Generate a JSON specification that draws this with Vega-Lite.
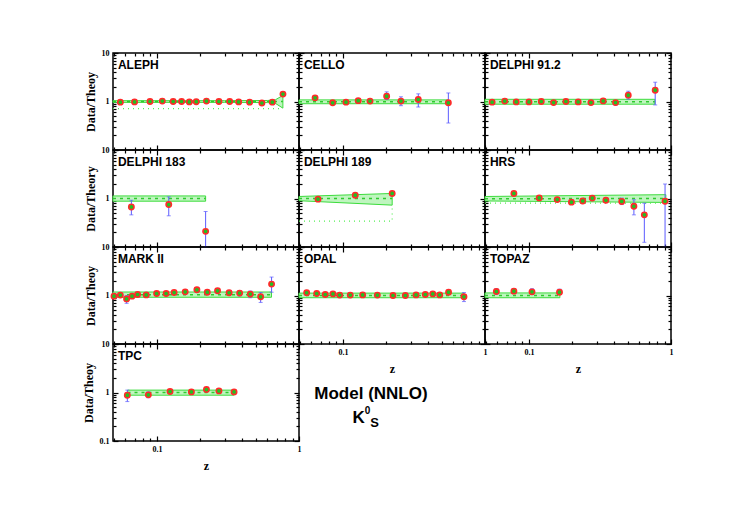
{
"$schema": "https://vega.github.io/schema/vega-lite/v6.json",
"background": "white",
"padding": {"left": 81, "top": 48, "right": 0, "bottom": 0},
"columns": 3,
"spacing": 0,
"bounds": "flush",
"config": {
 "view": {"stroke": "black", "strokeWidth": 1.5},
 "axis": {"grid": false, "labelFont": "Liberation Serif", "labelFontWeight": "bold", "labelFontSize": 8, "labelColor": "black", "titleFont": "Liberation Serif", "titleFontWeight": "bold", "titleFontSize": 12, "titleColor": "black", "tickColor": "black", "tickWidth": 1.2}
},
"datasets": {
 "pts": [
  {"e":"ALEPH","z":0.0552,"v":0.97,"lo":0.93,"hi":1.01},
  {"e":"ALEPH","z":0.0695,"v":0.98,"lo":0.95,"hi":1.01},
  {"e":"ALEPH","z":0.0893,"v":1.0,"lo":0.97,"hi":1.03},
  {"e":"ALEPH","z":0.109,"v":1.02,"lo":0.99,"hi":1.05},
  {"e":"ALEPH","z":0.130,"v":1.0,"lo":0.97,"hi":1.03},
  {"e":"ALEPH","z":0.149,"v":1.0,"lo":0.97,"hi":1.03},
  {"e":"ALEPH","z":0.169,"v":0.98,"lo":0.95,"hi":1.01},
  {"e":"ALEPH","z":0.189,"v":0.99,"lo":0.96,"hi":1.02},
  {"e":"ALEPH","z":0.223,"v":1.02,"lo":0.99,"hi":1.05},
  {"e":"ALEPH","z":0.273,"v":1.0,"lo":0.97,"hi":1.03},
  {"e":"ALEPH","z":0.325,"v":1.0,"lo":0.97,"hi":1.03},
  {"e":"ALEPH","z":0.376,"v":0.98,"lo":0.95,"hi":1.01},
  {"e":"ALEPH","z":0.449,"v":0.97,"lo":0.93,"hi":1.01},
  {"e":"ALEPH","z":0.548,"v":0.93,"lo":0.86,"hi":1.0},
  {"e":"ALEPH","z":0.649,"v":0.97,"lo":0.92,"hi":1.02},
  {"e":"ALEPH","z":0.771,"v":1.42,"lo":1.34,"hi":1.5},
  {"e":"CELLO","z":0.0636,"v":1.19,"lo":1.14,"hi":1.24},
  {"e":"CELLO","z":0.0846,"v":0.94,"lo":0.9,"hi":0.98},
  {"e":"CELLO","z":0.105,"v":0.97,"lo":0.93,"hi":1.01},
  {"e":"CELLO","z":0.128,"v":1.04,"lo":0.96,"hi":1.12},
  {"e":"CELLO","z":0.155,"v":1.02,"lo":0.97,"hi":1.07},
  {"e":"CELLO","z":0.203,"v":1.29,"lo":1.1,"hi":1.58},
  {"e":"CELLO","z":0.256,"v":1.02,"lo":0.82,"hi":1.25},
  {"e":"CELLO","z":0.339,"v":1.1,"lo":0.77,"hi":1.44},
  {"e":"CELLO","z":0.552,"v":0.94,"lo":0.36,"hi":1.5},
  {"e":"DELPHI 91.2","z":0.055,"v":0.97,"lo":0.94,"hi":1.0},
  {"e":"DELPHI 91.2","z":0.0675,"v":1.02,"lo":0.99,"hi":1.05},
  {"e":"DELPHI 91.2","z":0.0813,"v":0.98,"lo":0.95,"hi":1.01},
  {"e":"DELPHI 91.2","z":0.1,"v":0.98,"lo":0.95,"hi":1.01},
  {"e":"DELPHI 91.2","z":0.122,"v":1.0,"lo":0.97,"hi":1.03},
  {"e":"DELPHI 91.2","z":0.149,"v":0.95,"lo":0.92,"hi":0.98},
  {"e":"DELPHI 91.2","z":0.182,"v":1.0,"lo":0.97,"hi":1.03},
  {"e":"DELPHI 91.2","z":0.222,"v":0.98,"lo":0.95,"hi":1.01},
  {"e":"DELPHI 91.2","z":0.273,"v":0.95,"lo":0.92,"hi":0.98},
  {"e":"DELPHI 91.2","z":0.333,"v":1.03,"lo":0.99,"hi":1.07},
  {"e":"DELPHI 91.2","z":0.407,"v":0.95,"lo":0.84,"hi":1.03},
  {"e":"DELPHI 91.2","z":0.5,"v":1.35,"lo":1.12,"hi":1.63},
  {"e":"DELPHI 91.2","z":0.774,"v":1.71,"lo":0.85,"hi":2.5},
  {"e":"DELPHI 183","z":0.066,"v":0.67,"lo":0.46,"hi":0.92},
  {"e":"DELPHI 183","z":0.121,"v":0.75,"lo":0.44,"hi":1.08},
  {"e":"DELPHI 183","z":0.22,"v":0.21,"lo":0.1,"hi":0.54},
  {"e":"DELPHI 189","z":0.0667,"v":0.97,"lo":0.94,"hi":1.0},
  {"e":"DELPHI 189","z":0.122,"v":1.17,"lo":1.14,"hi":1.2},
  {"e":"DELPHI 189","z":0.222,"v":1.27,"lo":1.24,"hi":1.3},
  {"e":"HRS","z":0.0783,"v":1.27,"lo":1.23,"hi":1.31},
  {"e":"HRS","z":0.118,"v":1.03,"lo":1.0,"hi":1.06},
  {"e":"HRS","z":0.158,"v":0.95,"lo":0.92,"hi":0.98},
  {"e":"HRS","z":0.199,"v":0.84,"lo":0.8,"hi":0.88},
  {"e":"HRS","z":0.239,"v":0.89,"lo":0.85,"hi":0.93},
  {"e":"HRS","z":0.279,"v":1.02,"lo":0.97,"hi":1.07},
  {"e":"HRS","z":0.348,"v":0.92,"lo":0.88,"hi":0.96},
  {"e":"HRS","z":0.45,"v":0.87,"lo":0.75,"hi":1.02},
  {"e":"HRS","z":0.548,"v":0.69,"lo":0.46,"hi":0.94},
  {"e":"HRS","z":0.649,"v":0.46,"lo":0.125,"hi":0.8},
  {"e":"HRS","z":0.908,"v":0.88,"lo":0.1,"hi":1.99},
  {"e":"MARK II","z":0.0498,"v":0.97,"lo":0.88,"hi":1.07},
  {"e":"MARK II","z":0.0552,"v":1.02,"lo":0.94,"hi":1.1},
  {"e":"MARK II","z":0.0611,"v":0.85,"lo":0.69,"hi":1.0},
  {"e":"MARK II","z":0.0667,"v":0.97,"lo":0.89,"hi":1.05},
  {"e":"MARK II","z":0.073,"v":1.05,"lo":0.96,"hi":1.14},
  {"e":"MARK II","z":0.084,"v":1.03,"lo":0.95,"hi":1.12},
  {"e":"MARK II","z":0.0994,"v":1.1,"lo":1.0,"hi":1.2},
  {"e":"MARK II","z":0.116,"v":1.1,"lo":1.0,"hi":1.2},
  {"e":"MARK II","z":0.132,"v":1.15,"lo":1.06,"hi":1.24},
  {"e":"MARK II","z":0.158,"v":1.19,"lo":1.1,"hi":1.28},
  {"e":"MARK II","z":0.191,"v":1.31,"lo":1.2,"hi":1.42},
  {"e":"MARK II","z":0.226,"v":1.17,"lo":1.08,"hi":1.26},
  {"e":"MARK II","z":0.267,"v":1.25,"lo":1.15,"hi":1.35},
  {"e":"MARK II","z":0.322,"v":1.14,"lo":1.04,"hi":1.24},
  {"e":"MARK II","z":0.382,"v":1.12,"lo":0.98,"hi":1.26},
  {"e":"MARK II","z":0.454,"v":1.07,"lo":0.9,"hi":1.24},
  {"e":"MARK II","z":0.537,"v":0.94,"lo":0.72,"hi":1.15},
  {"e":"MARK II","z":0.641,"v":1.72,"lo":1.17,"hi":2.4},
  {"e":"OPAL","z":0.0555,"v":1.14,"lo":1.11,"hi":1.17},
  {"e":"OPAL","z":0.0653,"v":1.1,"lo":1.07,"hi":1.13},
  {"e":"OPAL","z":0.075,"v":1.05,"lo":1.02,"hi":1.08},
  {"e":"OPAL","z":0.085,"v":1.08,"lo":1.05,"hi":1.11},
  {"e":"OPAL","z":0.0948,"v":1.02,"lo":0.99,"hi":1.05},
  {"e":"OPAL","z":0.1125,"v":1.02,"lo":0.99,"hi":1.05},
  {"e":"OPAL","z":0.1376,"v":1.03,"lo":1.0,"hi":1.06},
  {"e":"OPAL","z":0.1745,"v":1.02,"lo":0.99,"hi":1.05},
  {"e":"OPAL","z":0.225,"v":1.0,"lo":0.97,"hi":1.03},
  {"e":"OPAL","z":0.275,"v":1.0,"lo":0.97,"hi":1.03},
  {"e":"OPAL","z":0.327,"v":1.03,"lo":1.0,"hi":1.06},
  {"e":"OPAL","z":0.38,"v":1.05,"lo":1.02,"hi":1.08},
  {"e":"OPAL","z":0.429,"v":1.08,"lo":1.04,"hi":1.12},
  {"e":"OPAL","z":0.48,"v":1.03,"lo":0.99,"hi":1.07},
  {"e":"OPAL","z":0.554,"v":1.17,"lo":1.12,"hi":1.22},
  {"e":"OPAL","z":0.711,"v":0.94,"lo":0.75,"hi":1.15},
  {"e":"TOPAZ","z":0.0589,"v":1.21,"lo":1.07,"hi":1.38},
  {"e":"TOPAZ","z":0.0783,"v":1.23,"lo":1.1,"hi":1.38},
  {"e":"TOPAZ","z":0.105,"v":1.19,"lo":1.05,"hi":1.38},
  {"e":"TOPAZ","z":0.164,"v":1.17,"lo":1.05,"hi":1.35},
  {"e":"TPC","z":0.0618,"v":0.88,"lo":0.65,"hi":1.12},
  {"e":"TPC","z":0.0869,"v":0.895,"lo":0.78,"hi":1.03},
  {"e":"TPC","z":0.1236,"v":1.05,"lo":0.97,"hi":1.13},
  {"e":"TPC","z":0.1747,"v":1.03,"lo":0.97,"hi":1.09},
  {"e":"TPC","z":0.223,"v":1.15,"lo":1.05,"hi":1.25},
  {"e":"TPC","z":0.273,"v":1.08,"lo":0.98,"hi":1.18},
  {"e":"TPC","z":0.349,"v":1.03,"lo":0.92,"hi":1.15}
 ],
 "band": [
  {"e":"ALEPH","z":0.049,"lo":0.96,"hi":1.04,"mid":1.0},
  {"e":"ALEPH","z":0.3,"lo":0.96,"hi":1.04,"mid":1.0},
  {"e":"ALEPH","z":0.6,"lo":0.95,"hi":1.05,"mid":1.0},
  {"e":"ALEPH","z":0.68,"lo":0.92,"hi":1.08,"mid":1.0},
  {"e":"ALEPH","z":0.77,"lo":0.73,"hi":1.33,"mid":1.0},
  {"e":"CELLO","z":0.049,"lo":0.9,"hi":1.08,"mid":0.99},
  {"e":"CELLO","z":0.55,"lo":0.9,"hi":1.08,"mid":0.99},
  {"e":"DELPHI 91.2","z":0.049,"lo":0.88,"hi":1.11,"mid":0.99},
  {"e":"DELPHI 91.2","z":0.77,"lo":0.88,"hi":1.11,"mid":0.99},
  {"e":"DELPHI 183","z":0.049,"lo":0.88,"hi":1.13,"mid":1.0},
  {"e":"DELPHI 183","z":0.22,"lo":0.88,"hi":1.13,"mid":1.0},
  {"e":"DELPHI 189","z":0.049,"lo":0.9,"hi":1.1,"mid":1.0},
  {"e":"DELPHI 189","z":0.222,"lo":0.73,"hi":1.27,"mid":1.0},
  {"e":"HRS","z":0.049,"lo":0.89,"hi":1.1,"mid":0.99},
  {"e":"HRS","z":0.92,"lo":0.83,"hi":1.2,"mid":1.0},
  {"e":"MARK II","z":0.049,"lo":0.92,"hi":1.18,"mid":1.04},
  {"e":"MARK II","z":0.64,"lo":0.92,"hi":1.18,"mid":1.04},
  {"e":"OPAL","z":0.049,"lo":0.9,"hi":1.12,"mid":1.0},
  {"e":"OPAL","z":0.71,"lo":0.9,"hi":1.12,"mid":1.0},
  {"e":"TOPAZ","z":0.049,"lo":0.9,"hi":1.13,"mid":1.0},
  {"e":"TOPAZ","z":0.165,"lo":0.9,"hi":1.13,"mid":1.0},
  {"e":"TPC","z":0.062,"lo":0.88,"hi":1.12,"mid":1.0},
  {"e":"TPC","z":0.35,"lo":0.88,"hi":1.12,"mid":1.0}
 ],
 "dot": [
  {"e":"ALEPH","i":0,"z":0.049,"y":0.71},
  {"e":"ALEPH","i":1,"z":0.77,"y":0.71},
  {"e":"DELPHI 189","i":0,"z":0.049,"y":0.34},
  {"e":"DELPHI 189","i":1,"z":0.222,"y":0.34},
  {"e":"DELPHI 189","i":2,"z":0.222,"y":0.73},
  {"e":"HRS","i":0,"z":0.049,"y":0.8},
  {"e":"HRS","i":1,"z":0.92,"y":0.8}
 ]
},
"concat": [
 {"width":186,"height":97,"resolve":{"axis":{"x":"independent","y":"independent"}},"layer":[
  {"data":{"name":"band"},"transform":[{"filter":"datum.e=='ALEPH'"}],"mark":{"type":"area","fill":"#bff5bf","stroke":"#3ddc3d","strokeWidth":1},"encoding":{"x":{"field":"z","type":"quantitative","scale":{"type":"log","domain":[0.049,1]},"axis":{"orient":"bottom","values":[0.1,1],"tickSize":5,"offset":-5,"labels":false,"domain":false,"title":null}},"y":{"field":"lo","type":"quantitative","scale":{"type":"log","domain":[0.1,10]},"axis":{"orient":"left","values":[0.1,1,10],"tickSize":5,"offset":-5,"labels":true,"format":"~g","labelFlush":false,"labelPadding":4,"labelExpr":"datum.value < 0.5 ? '' : datum.label","domain":false,"title":"Data/Theoy","titlePadding":4}},"y2":{"field":"hi"}}},
  {"data":{"name":"band"},"transform":[{"filter":"datum.e=='ALEPH'"}],"mark":{"type":"line","stroke":"#2ecc2e","strokeWidth":1.5,"strokeDash":[3,4]},"encoding":{"x":{"field":"z","type":"quantitative","scale":{"type":"log","domain":[0.049,1]},"axis":{"orient":"top","values":[0.1,1],"tickSize":5,"offset":-5,"labels":false,"domain":false,"title":null}},"y":{"field":"mid","type":"quantitative","scale":{"type":"log","domain":[0.1,10]},"axis":{"orient":"right","values":[0.1,1,10],"tickSize":5,"offset":-5,"labels":false,"domain":false,"title":null}}}},
  {"data":{"name":"dot"},"transform":[{"filter":"datum.e=='ALEPH'"}],"mark":{"type":"line","stroke":"#55ee55","strokeWidth":1.2,"strokeDash":[1,4]},"encoding":{"x":{"field":"z","type":"quantitative","scale":{"type":"log","domain":[0.049,1]},"axis":null},"y":{"field":"y","type":"quantitative","scale":{"type":"log","domain":[0.1,10]},"axis":null},"order":{"field":"i"}}},
  {"data":{"name":"pts"},"transform":[{"filter":"datum.e=='ALEPH'"}],"mark":{"type":"rule","stroke":"#5b5bff","strokeWidth":1},"encoding":{"x":{"field":"z","type":"quantitative","scale":{"type":"log","domain":[0.049,1]},"axis":{"orient":"bottom","values":[0.05,0.06,0.07,0.08,0.09,0.2,0.3,0.4,0.5,0.6,0.7,0.8,0.9],"tickSize":3,"offset":-3,"labels":false,"domain":false,"title":null}},"y":{"field":"lo","type":"quantitative","scale":{"type":"log","domain":[0.1,10]},"axis":{"orient":"left","values":[0.2,0.3,0.4,0.5,0.6,0.7,0.8,0.9,2,3,4,5,6,7,8,9],"tickSize":3,"offset":-3,"labels":false,"domain":false,"title":null}},"y2":{"field":"hi"}}},
  {"data":{"name":"pts"},"transform":[{"filter":"datum.e=='ALEPH'"}],"mark":{"type":"tick","orient":"horizontal","color":"#5b5bff","size":4,"thickness":1},"encoding":{"x":{"field":"z","type":"quantitative","scale":{"type":"log","domain":[0.049,1]},"axis":{"orient":"top","values":[0.05,0.06,0.07,0.08,0.09,0.2,0.3,0.4,0.5,0.6,0.7,0.8,0.9],"tickSize":3,"offset":-3,"labels":false,"domain":false,"title":null}},"y":{"field":"lo","type":"quantitative","scale":{"type":"log","domain":[0.1,10]},"axis":{"orient":"right","values":[0.2,0.3,0.4,0.5,0.6,0.7,0.8,0.9,2,3,4,5,6,7,8,9],"tickSize":3,"offset":-3,"labels":false,"domain":false,"title":null}}}},
  {"data":{"name":"pts"},"transform":[{"filter":"datum.e=='ALEPH'"}],"mark":{"type":"tick","orient":"horizontal","color":"#5b5bff","size":4,"thickness":1},"encoding":{"x":{"field":"z","type":"quantitative","scale":{"type":"log","domain":[0.049,1]},"axis":null},"y":{"field":"hi","type":"quantitative","scale":{"type":"log","domain":[0.1,10]},"axis":null}}},
  {"data":{"name":"pts"},"transform":[{"filter":"datum.e=='ALEPH'"}],"mark":{"type":"circle","fill":"#22c022","stroke":"#ff2a2a","strokeWidth":1.6,"size":28,"opacity":1},"encoding":{"x":{"field":"z","type":"quantitative","scale":{"type":"log","domain":[0.049,1]},"axis":null},"y":{"field":"v","type":"quantitative","scale":{"type":"log","domain":[0.1,10]},"axis":null}}},
  {"data":{"values":[{}]},"mark":{"type":"text","align":"left","baseline":"alphabetic","font":"Liberation Sans","fontWeight":"bold","fontSize":12,"color":"black"},"encoding":{"x":{"datum":0.0531,"type":"quantitative","scale":{"type":"log","domain":[0.049,1]},"axis":null},"y":{"datum":4.6,"type":"quantitative","scale":{"type":"log","domain":[0.1,10]},"axis":null},"text":{"value":"ALEPH"}}}
 ]},
 {"width":186,"height":97,"resolve":{"axis":{"x":"independent","y":"independent"}},"layer":[
  {"data":{"name":"band"},"transform":[{"filter":"datum.e=='CELLO'"}],"mark":{"type":"area","fill":"#bff5bf","stroke":"#3ddc3d","strokeWidth":1},"encoding":{"x":{"field":"z","type":"quantitative","scale":{"type":"log","domain":[0.049,1]},"axis":{"orient":"bottom","values":[0.1,1],"tickSize":5,"offset":-5,"labels":false,"domain":false,"title":null}},"y":{"field":"lo","type":"quantitative","scale":{"type":"log","domain":[0.1,10]},"axis":{"orient":"left","values":[0.1,1,10],"tickSize":5,"offset":-5,"labels":false,"domain":false,"title":null}},"y2":{"field":"hi"}}},
  {"data":{"name":"band"},"transform":[{"filter":"datum.e=='CELLO'"}],"mark":{"type":"line","stroke":"#2ecc2e","strokeWidth":1.5,"strokeDash":[3,4]},"encoding":{"x":{"field":"z","type":"quantitative","scale":{"type":"log","domain":[0.049,1]},"axis":{"orient":"top","values":[0.1,1],"tickSize":5,"offset":-5,"labels":false,"domain":false,"title":null}},"y":{"field":"mid","type":"quantitative","scale":{"type":"log","domain":[0.1,10]},"axis":{"orient":"right","values":[0.1,1,10],"tickSize":5,"offset":-5,"labels":false,"domain":false,"title":null}}}},
  {"data":{"name":"pts"},"transform":[{"filter":"datum.e=='CELLO'"}],"mark":{"type":"rule","stroke":"#5b5bff","strokeWidth":1},"encoding":{"x":{"field":"z","type":"quantitative","scale":{"type":"log","domain":[0.049,1]},"axis":{"orient":"bottom","values":[0.05,0.06,0.07,0.08,0.09,0.2,0.3,0.4,0.5,0.6,0.7,0.8,0.9],"tickSize":3,"offset":-3,"labels":false,"domain":false,"title":null}},"y":{"field":"lo","type":"quantitative","scale":{"type":"log","domain":[0.1,10]},"axis":{"orient":"left","values":[0.2,0.3,0.4,0.5,0.6,0.7,0.8,0.9,2,3,4,5,6,7,8,9],"tickSize":3,"offset":-3,"labels":false,"domain":false,"title":null}},"y2":{"field":"hi"}}},
  {"data":{"name":"pts"},"transform":[{"filter":"datum.e=='CELLO'"}],"mark":{"type":"tick","orient":"horizontal","color":"#5b5bff","size":4,"thickness":1},"encoding":{"x":{"field":"z","type":"quantitative","scale":{"type":"log","domain":[0.049,1]},"axis":{"orient":"top","values":[0.05,0.06,0.07,0.08,0.09,0.2,0.3,0.4,0.5,0.6,0.7,0.8,0.9],"tickSize":3,"offset":-3,"labels":false,"domain":false,"title":null}},"y":{"field":"lo","type":"quantitative","scale":{"type":"log","domain":[0.1,10]},"axis":{"orient":"right","values":[0.2,0.3,0.4,0.5,0.6,0.7,0.8,0.9,2,3,4,5,6,7,8,9],"tickSize":3,"offset":-3,"labels":false,"domain":false,"title":null}}}},
  {"data":{"name":"pts"},"transform":[{"filter":"datum.e=='CELLO'"}],"mark":{"type":"tick","orient":"horizontal","color":"#5b5bff","size":4,"thickness":1},"encoding":{"x":{"field":"z","type":"quantitative","scale":{"type":"log","domain":[0.049,1]},"axis":null},"y":{"field":"hi","type":"quantitative","scale":{"type":"log","domain":[0.1,10]},"axis":null}}},
  {"data":{"name":"pts"},"transform":[{"filter":"datum.e=='CELLO'"}],"mark":{"type":"circle","fill":"#22c022","stroke":"#ff2a2a","strokeWidth":1.6,"size":28,"opacity":1},"encoding":{"x":{"field":"z","type":"quantitative","scale":{"type":"log","domain":[0.049,1]},"axis":null},"y":{"field":"v","type":"quantitative","scale":{"type":"log","domain":[0.1,10]},"axis":null}}},
  {"data":{"values":[{}]},"mark":{"type":"text","align":"left","baseline":"alphabetic","font":"Liberation Sans","fontWeight":"bold","fontSize":12,"color":"black"},"encoding":{"x":{"datum":0.0531,"type":"quantitative","scale":{"type":"log","domain":[0.049,1]},"axis":null},"y":{"datum":4.6,"type":"quantitative","scale":{"type":"log","domain":[0.1,10]},"axis":null},"text":{"value":"CELLO"}}}
 ]},
 {"width":186,"height":97,"resolve":{"axis":{"x":"independent","y":"independent"}},"layer":[
  {"data":{"name":"band"},"transform":[{"filter":"datum.e=='DELPHI 91.2'"}],"mark":{"type":"area","fill":"#bff5bf","stroke":"#3ddc3d","strokeWidth":1},"encoding":{"x":{"field":"z","type":"quantitative","scale":{"type":"log","domain":[0.049,1]},"axis":{"orient":"bottom","values":[0.1,1],"tickSize":5,"offset":-5,"labels":false,"domain":false,"title":null}},"y":{"field":"lo","type":"quantitative","scale":{"type":"log","domain":[0.1,10]},"axis":{"orient":"left","values":[0.1,1,10],"tickSize":5,"offset":-5,"labels":false,"domain":false,"title":null}},"y2":{"field":"hi"}}},
  {"data":{"name":"band"},"transform":[{"filter":"datum.e=='DELPHI 91.2'"}],"mark":{"type":"line","stroke":"#2ecc2e","strokeWidth":1.5,"strokeDash":[3,4]},"encoding":{"x":{"field":"z","type":"quantitative","scale":{"type":"log","domain":[0.049,1]},"axis":{"orient":"top","values":[0.1,1],"tickSize":5,"offset":-5,"labels":false,"domain":false,"title":null}},"y":{"field":"mid","type":"quantitative","scale":{"type":"log","domain":[0.1,10]},"axis":{"orient":"right","values":[0.1,1,10],"tickSize":5,"offset":-5,"labels":false,"domain":false,"title":null}}}},
  {"data":{"name":"pts"},"transform":[{"filter":"datum.e=='DELPHI 91.2'"}],"mark":{"type":"rule","stroke":"#5b5bff","strokeWidth":1},"encoding":{"x":{"field":"z","type":"quantitative","scale":{"type":"log","domain":[0.049,1]},"axis":{"orient":"bottom","values":[0.05,0.06,0.07,0.08,0.09,0.2,0.3,0.4,0.5,0.6,0.7,0.8,0.9],"tickSize":3,"offset":-3,"labels":false,"domain":false,"title":null}},"y":{"field":"lo","type":"quantitative","scale":{"type":"log","domain":[0.1,10]},"axis":{"orient":"left","values":[0.2,0.3,0.4,0.5,0.6,0.7,0.8,0.9,2,3,4,5,6,7,8,9],"tickSize":3,"offset":-3,"labels":false,"domain":false,"title":null}},"y2":{"field":"hi"}}},
  {"data":{"name":"pts"},"transform":[{"filter":"datum.e=='DELPHI 91.2'"}],"mark":{"type":"tick","orient":"horizontal","color":"#5b5bff","size":4,"thickness":1},"encoding":{"x":{"field":"z","type":"quantitative","scale":{"type":"log","domain":[0.049,1]},"axis":{"orient":"top","values":[0.05,0.06,0.07,0.08,0.09,0.2,0.3,0.4,0.5,0.6,0.7,0.8,0.9],"tickSize":3,"offset":-3,"labels":false,"domain":false,"title":null}},"y":{"field":"lo","type":"quantitative","scale":{"type":"log","domain":[0.1,10]},"axis":{"orient":"right","values":[0.2,0.3,0.4,0.5,0.6,0.7,0.8,0.9,2,3,4,5,6,7,8,9],"tickSize":3,"offset":-3,"labels":false,"domain":false,"title":null}}}},
  {"data":{"name":"pts"},"transform":[{"filter":"datum.e=='DELPHI 91.2'"}],"mark":{"type":"tick","orient":"horizontal","color":"#5b5bff","size":4,"thickness":1},"encoding":{"x":{"field":"z","type":"quantitative","scale":{"type":"log","domain":[0.049,1]},"axis":null},"y":{"field":"hi","type":"quantitative","scale":{"type":"log","domain":[0.1,10]},"axis":null}}},
  {"data":{"name":"pts"},"transform":[{"filter":"datum.e=='DELPHI 91.2'"}],"mark":{"type":"circle","fill":"#22c022","stroke":"#ff2a2a","strokeWidth":1.6,"size":28,"opacity":1},"encoding":{"x":{"field":"z","type":"quantitative","scale":{"type":"log","domain":[0.049,1]},"axis":null},"y":{"field":"v","type":"quantitative","scale":{"type":"log","domain":[0.1,10]},"axis":null}}},
  {"data":{"values":[{}]},"mark":{"type":"text","align":"left","baseline":"alphabetic","font":"Liberation Sans","fontWeight":"bold","fontSize":12,"color":"black"},"encoding":{"x":{"datum":0.0531,"type":"quantitative","scale":{"type":"log","domain":[0.049,1]},"axis":null},"y":{"datum":4.6,"type":"quantitative","scale":{"type":"log","domain":[0.1,10]},"axis":null},"text":{"value":"DELPHI 91.2"}}}
 ]},
 {"width":186,"height":97,"resolve":{"axis":{"x":"independent","y":"independent"}},"layer":[
  {"data":{"name":"band"},"transform":[{"filter":"datum.e=='DELPHI 183'"}],"mark":{"type":"area","fill":"#bff5bf","stroke":"#3ddc3d","strokeWidth":1},"encoding":{"x":{"field":"z","type":"quantitative","scale":{"type":"log","domain":[0.049,1]},"axis":{"orient":"bottom","values":[0.1,1],"tickSize":5,"offset":-5,"labels":false,"domain":false,"title":null}},"y":{"field":"lo","type":"quantitative","scale":{"type":"log","domain":[0.1,10]},"axis":{"orient":"left","values":[0.1,1,10],"tickSize":5,"offset":-5,"labels":true,"format":"~g","labelFlush":false,"labelPadding":4,"labelExpr":"datum.value < 0.5 ? '' : datum.label","domain":false,"title":"Data/Theory","titlePadding":4}},"y2":{"field":"hi"}}},
  {"data":{"name":"band"},"transform":[{"filter":"datum.e=='DELPHI 183'"}],"mark":{"type":"line","stroke":"#2ecc2e","strokeWidth":1.5,"strokeDash":[3,4]},"encoding":{"x":{"field":"z","type":"quantitative","scale":{"type":"log","domain":[0.049,1]},"axis":{"orient":"top","values":[0.1,1],"tickSize":5,"offset":-5,"labels":false,"domain":false,"title":null}},"y":{"field":"mid","type":"quantitative","scale":{"type":"log","domain":[0.1,10]},"axis":{"orient":"right","values":[0.1,1,10],"tickSize":5,"offset":-5,"labels":false,"domain":false,"title":null}}}},
  {"data":{"name":"pts"},"transform":[{"filter":"datum.e=='DELPHI 183'"}],"mark":{"type":"rule","stroke":"#5b5bff","strokeWidth":1},"encoding":{"x":{"field":"z","type":"quantitative","scale":{"type":"log","domain":[0.049,1]},"axis":{"orient":"bottom","values":[0.05,0.06,0.07,0.08,0.09,0.2,0.3,0.4,0.5,0.6,0.7,0.8,0.9],"tickSize":3,"offset":-3,"labels":false,"domain":false,"title":null}},"y":{"field":"lo","type":"quantitative","scale":{"type":"log","domain":[0.1,10]},"axis":{"orient":"left","values":[0.2,0.3,0.4,0.5,0.6,0.7,0.8,0.9,2,3,4,5,6,7,8,9],"tickSize":3,"offset":-3,"labels":false,"domain":false,"title":null}},"y2":{"field":"hi"}}},
  {"data":{"name":"pts"},"transform":[{"filter":"datum.e=='DELPHI 183'"}],"mark":{"type":"tick","orient":"horizontal","color":"#5b5bff","size":4,"thickness":1},"encoding":{"x":{"field":"z","type":"quantitative","scale":{"type":"log","domain":[0.049,1]},"axis":{"orient":"top","values":[0.05,0.06,0.07,0.08,0.09,0.2,0.3,0.4,0.5,0.6,0.7,0.8,0.9],"tickSize":3,"offset":-3,"labels":false,"domain":false,"title":null}},"y":{"field":"lo","type":"quantitative","scale":{"type":"log","domain":[0.1,10]},"axis":{"orient":"right","values":[0.2,0.3,0.4,0.5,0.6,0.7,0.8,0.9,2,3,4,5,6,7,8,9],"tickSize":3,"offset":-3,"labels":false,"domain":false,"title":null}}}},
  {"data":{"name":"pts"},"transform":[{"filter":"datum.e=='DELPHI 183'"}],"mark":{"type":"tick","orient":"horizontal","color":"#5b5bff","size":4,"thickness":1},"encoding":{"x":{"field":"z","type":"quantitative","scale":{"type":"log","domain":[0.049,1]},"axis":null},"y":{"field":"hi","type":"quantitative","scale":{"type":"log","domain":[0.1,10]},"axis":null}}},
  {"data":{"name":"pts"},"transform":[{"filter":"datum.e=='DELPHI 183'"}],"mark":{"type":"circle","fill":"#22c022","stroke":"#ff2a2a","strokeWidth":1.6,"size":28,"opacity":1},"encoding":{"x":{"field":"z","type":"quantitative","scale":{"type":"log","domain":[0.049,1]},"axis":null},"y":{"field":"v","type":"quantitative","scale":{"type":"log","domain":[0.1,10]},"axis":null}}},
  {"data":{"values":[{}]},"mark":{"type":"text","align":"left","baseline":"alphabetic","font":"Liberation Sans","fontWeight":"bold","fontSize":12,"color":"black"},"encoding":{"x":{"datum":0.0531,"type":"quantitative","scale":{"type":"log","domain":[0.049,1]},"axis":null},"y":{"datum":4.6,"type":"quantitative","scale":{"type":"log","domain":[0.1,10]},"axis":null},"text":{"value":"DELPHI 183"}}}
 ]},
 {"width":186,"height":97,"resolve":{"axis":{"x":"independent","y":"independent"}},"layer":[
  {"data":{"name":"band"},"transform":[{"filter":"datum.e=='DELPHI 189'"}],"mark":{"type":"area","fill":"#bff5bf","stroke":"#3ddc3d","strokeWidth":1},"encoding":{"x":{"field":"z","type":"quantitative","scale":{"type":"log","domain":[0.049,1]},"axis":{"orient":"bottom","values":[0.1,1],"tickSize":5,"offset":-5,"labels":false,"domain":false,"title":null}},"y":{"field":"lo","type":"quantitative","scale":{"type":"log","domain":[0.1,10]},"axis":{"orient":"left","values":[0.1,1,10],"tickSize":5,"offset":-5,"labels":false,"domain":false,"title":null}},"y2":{"field":"hi"}}},
  {"data":{"name":"band"},"transform":[{"filter":"datum.e=='DELPHI 189'"}],"mark":{"type":"line","stroke":"#2ecc2e","strokeWidth":1.5,"strokeDash":[3,4]},"encoding":{"x":{"field":"z","type":"quantitative","scale":{"type":"log","domain":[0.049,1]},"axis":{"orient":"top","values":[0.1,1],"tickSize":5,"offset":-5,"labels":false,"domain":false,"title":null}},"y":{"field":"mid","type":"quantitative","scale":{"type":"log","domain":[0.1,10]},"axis":{"orient":"right","values":[0.1,1,10],"tickSize":5,"offset":-5,"labels":false,"domain":false,"title":null}}}},
  {"data":{"name":"dot"},"transform":[{"filter":"datum.e=='DELPHI 189'"}],"mark":{"type":"line","stroke":"#55ee55","strokeWidth":1.2,"strokeDash":[1,4]},"encoding":{"x":{"field":"z","type":"quantitative","scale":{"type":"log","domain":[0.049,1]},"axis":null},"y":{"field":"y","type":"quantitative","scale":{"type":"log","domain":[0.1,10]},"axis":null},"order":{"field":"i"}}},
  {"data":{"name":"pts"},"transform":[{"filter":"datum.e=='DELPHI 189'"}],"mark":{"type":"rule","stroke":"#5b5bff","strokeWidth":1},"encoding":{"x":{"field":"z","type":"quantitative","scale":{"type":"log","domain":[0.049,1]},"axis":{"orient":"bottom","values":[0.05,0.06,0.07,0.08,0.09,0.2,0.3,0.4,0.5,0.6,0.7,0.8,0.9],"tickSize":3,"offset":-3,"labels":false,"domain":false,"title":null}},"y":{"field":"lo","type":"quantitative","scale":{"type":"log","domain":[0.1,10]},"axis":{"orient":"left","values":[0.2,0.3,0.4,0.5,0.6,0.7,0.8,0.9,2,3,4,5,6,7,8,9],"tickSize":3,"offset":-3,"labels":false,"domain":false,"title":null}},"y2":{"field":"hi"}}},
  {"data":{"name":"pts"},"transform":[{"filter":"datum.e=='DELPHI 189'"}],"mark":{"type":"tick","orient":"horizontal","color":"#5b5bff","size":4,"thickness":1},"encoding":{"x":{"field":"z","type":"quantitative","scale":{"type":"log","domain":[0.049,1]},"axis":{"orient":"top","values":[0.05,0.06,0.07,0.08,0.09,0.2,0.3,0.4,0.5,0.6,0.7,0.8,0.9],"tickSize":3,"offset":-3,"labels":false,"domain":false,"title":null}},"y":{"field":"lo","type":"quantitative","scale":{"type":"log","domain":[0.1,10]},"axis":{"orient":"right","values":[0.2,0.3,0.4,0.5,0.6,0.7,0.8,0.9,2,3,4,5,6,7,8,9],"tickSize":3,"offset":-3,"labels":false,"domain":false,"title":null}}}},
  {"data":{"name":"pts"},"transform":[{"filter":"datum.e=='DELPHI 189'"}],"mark":{"type":"tick","orient":"horizontal","color":"#5b5bff","size":4,"thickness":1},"encoding":{"x":{"field":"z","type":"quantitative","scale":{"type":"log","domain":[0.049,1]},"axis":null},"y":{"field":"hi","type":"quantitative","scale":{"type":"log","domain":[0.1,10]},"axis":null}}},
  {"data":{"name":"pts"},"transform":[{"filter":"datum.e=='DELPHI 189'"}],"mark":{"type":"circle","fill":"#22c022","stroke":"#ff2a2a","strokeWidth":1.6,"size":28,"opacity":1},"encoding":{"x":{"field":"z","type":"quantitative","scale":{"type":"log","domain":[0.049,1]},"axis":null},"y":{"field":"v","type":"quantitative","scale":{"type":"log","domain":[0.1,10]},"axis":null}}},
  {"data":{"values":[{}]},"mark":{"type":"text","align":"left","baseline":"alphabetic","font":"Liberation Sans","fontWeight":"bold","fontSize":12,"color":"black"},"encoding":{"x":{"datum":0.0531,"type":"quantitative","scale":{"type":"log","domain":[0.049,1]},"axis":null},"y":{"datum":4.6,"type":"quantitative","scale":{"type":"log","domain":[0.1,10]},"axis":null},"text":{"value":"DELPHI 189"}}}
 ]},
 {"width":186,"height":97,"resolve":{"axis":{"x":"independent","y":"independent"}},"layer":[
  {"data":{"name":"band"},"transform":[{"filter":"datum.e=='HRS'"}],"mark":{"type":"area","fill":"#bff5bf","stroke":"#3ddc3d","strokeWidth":1},"encoding":{"x":{"field":"z","type":"quantitative","scale":{"type":"log","domain":[0.049,1]},"axis":{"orient":"bottom","values":[0.1,1],"tickSize":5,"offset":-5,"labels":false,"domain":false,"title":null}},"y":{"field":"lo","type":"quantitative","scale":{"type":"log","domain":[0.1,10]},"axis":{"orient":"left","values":[0.1,1,10],"tickSize":5,"offset":-5,"labels":false,"domain":false,"title":null}},"y2":{"field":"hi"}}},
  {"data":{"name":"band"},"transform":[{"filter":"datum.e=='HRS'"}],"mark":{"type":"line","stroke":"#2ecc2e","strokeWidth":1.5,"strokeDash":[3,4]},"encoding":{"x":{"field":"z","type":"quantitative","scale":{"type":"log","domain":[0.049,1]},"axis":{"orient":"top","values":[0.1,1],"tickSize":5,"offset":-5,"labels":false,"domain":false,"title":null}},"y":{"field":"mid","type":"quantitative","scale":{"type":"log","domain":[0.1,10]},"axis":{"orient":"right","values":[0.1,1,10],"tickSize":5,"offset":-5,"labels":false,"domain":false,"title":null}}}},
  {"data":{"name":"dot"},"transform":[{"filter":"datum.e=='HRS'"}],"mark":{"type":"line","stroke":"#55ee55","strokeWidth":1.2,"strokeDash":[1,4]},"encoding":{"x":{"field":"z","type":"quantitative","scale":{"type":"log","domain":[0.049,1]},"axis":null},"y":{"field":"y","type":"quantitative","scale":{"type":"log","domain":[0.1,10]},"axis":null},"order":{"field":"i"}}},
  {"data":{"name":"pts"},"transform":[{"filter":"datum.e=='HRS'"}],"mark":{"type":"rule","stroke":"#5b5bff","strokeWidth":1},"encoding":{"x":{"field":"z","type":"quantitative","scale":{"type":"log","domain":[0.049,1]},"axis":{"orient":"bottom","values":[0.05,0.06,0.07,0.08,0.09,0.2,0.3,0.4,0.5,0.6,0.7,0.8,0.9],"tickSize":3,"offset":-3,"labels":false,"domain":false,"title":null}},"y":{"field":"lo","type":"quantitative","scale":{"type":"log","domain":[0.1,10]},"axis":{"orient":"left","values":[0.2,0.3,0.4,0.5,0.6,0.7,0.8,0.9,2,3,4,5,6,7,8,9],"tickSize":3,"offset":-3,"labels":false,"domain":false,"title":null}},"y2":{"field":"hi"}}},
  {"data":{"name":"pts"},"transform":[{"filter":"datum.e=='HRS'"}],"mark":{"type":"tick","orient":"horizontal","color":"#5b5bff","size":4,"thickness":1},"encoding":{"x":{"field":"z","type":"quantitative","scale":{"type":"log","domain":[0.049,1]},"axis":{"orient":"top","values":[0.05,0.06,0.07,0.08,0.09,0.2,0.3,0.4,0.5,0.6,0.7,0.8,0.9],"tickSize":3,"offset":-3,"labels":false,"domain":false,"title":null}},"y":{"field":"lo","type":"quantitative","scale":{"type":"log","domain":[0.1,10]},"axis":{"orient":"right","values":[0.2,0.3,0.4,0.5,0.6,0.7,0.8,0.9,2,3,4,5,6,7,8,9],"tickSize":3,"offset":-3,"labels":false,"domain":false,"title":null}}}},
  {"data":{"name":"pts"},"transform":[{"filter":"datum.e=='HRS'"}],"mark":{"type":"tick","orient":"horizontal","color":"#5b5bff","size":4,"thickness":1},"encoding":{"x":{"field":"z","type":"quantitative","scale":{"type":"log","domain":[0.049,1]},"axis":null},"y":{"field":"hi","type":"quantitative","scale":{"type":"log","domain":[0.1,10]},"axis":null}}},
  {"data":{"name":"pts"},"transform":[{"filter":"datum.e=='HRS'"}],"mark":{"type":"circle","fill":"#22c022","stroke":"#ff2a2a","strokeWidth":1.6,"size":28,"opacity":1},"encoding":{"x":{"field":"z","type":"quantitative","scale":{"type":"log","domain":[0.049,1]},"axis":null},"y":{"field":"v","type":"quantitative","scale":{"type":"log","domain":[0.1,10]},"axis":null}}},
  {"data":{"values":[{}]},"mark":{"type":"text","align":"left","baseline":"alphabetic","font":"Liberation Sans","fontWeight":"bold","fontSize":12,"color":"black"},"encoding":{"x":{"datum":0.0531,"type":"quantitative","scale":{"type":"log","domain":[0.049,1]},"axis":null},"y":{"datum":4.6,"type":"quantitative","scale":{"type":"log","domain":[0.1,10]},"axis":null},"text":{"value":"HRS"}}}
 ]},
 {"width":186,"height":97,"resolve":{"axis":{"x":"independent","y":"independent"}},"layer":[
  {"data":{"name":"band"},"transform":[{"filter":"datum.e=='MARK II'"}],"mark":{"type":"area","fill":"#bff5bf","stroke":"#3ddc3d","strokeWidth":1},"encoding":{"x":{"field":"z","type":"quantitative","scale":{"type":"log","domain":[0.049,1]},"axis":{"orient":"bottom","values":[0.1,1],"tickSize":5,"offset":-5,"labels":false,"domain":false,"title":null}},"y":{"field":"lo","type":"quantitative","scale":{"type":"log","domain":[0.1,10]},"axis":{"orient":"left","values":[0.1,1,10],"tickSize":5,"offset":-5,"labels":true,"format":"~g","labelFlush":false,"labelPadding":4,"labelExpr":"datum.value < 0.5 ? '' : datum.label","domain":false,"title":"Data/Theoy","titlePadding":4}},"y2":{"field":"hi"}}},
  {"data":{"name":"band"},"transform":[{"filter":"datum.e=='MARK II'"}],"mark":{"type":"line","stroke":"#2ecc2e","strokeWidth":1.5,"strokeDash":[3,4]},"encoding":{"x":{"field":"z","type":"quantitative","scale":{"type":"log","domain":[0.049,1]},"axis":{"orient":"top","values":[0.1,1],"tickSize":5,"offset":-5,"labels":false,"domain":false,"title":null}},"y":{"field":"mid","type":"quantitative","scale":{"type":"log","domain":[0.1,10]},"axis":{"orient":"right","values":[0.1,1,10],"tickSize":5,"offset":-5,"labels":false,"domain":false,"title":null}}}},
  {"data":{"name":"pts"},"transform":[{"filter":"datum.e=='MARK II'"}],"mark":{"type":"rule","stroke":"#5b5bff","strokeWidth":1},"encoding":{"x":{"field":"z","type":"quantitative","scale":{"type":"log","domain":[0.049,1]},"axis":{"orient":"bottom","values":[0.05,0.06,0.07,0.08,0.09,0.2,0.3,0.4,0.5,0.6,0.7,0.8,0.9],"tickSize":3,"offset":-3,"labels":false,"domain":false,"title":null}},"y":{"field":"lo","type":"quantitative","scale":{"type":"log","domain":[0.1,10]},"axis":{"orient":"left","values":[0.2,0.3,0.4,0.5,0.6,0.7,0.8,0.9,2,3,4,5,6,7,8,9],"tickSize":3,"offset":-3,"labels":false,"domain":false,"title":null}},"y2":{"field":"hi"}}},
  {"data":{"name":"pts"},"transform":[{"filter":"datum.e=='MARK II'"}],"mark":{"type":"tick","orient":"horizontal","color":"#5b5bff","size":4,"thickness":1},"encoding":{"x":{"field":"z","type":"quantitative","scale":{"type":"log","domain":[0.049,1]},"axis":{"orient":"top","values":[0.05,0.06,0.07,0.08,0.09,0.2,0.3,0.4,0.5,0.6,0.7,0.8,0.9],"tickSize":3,"offset":-3,"labels":false,"domain":false,"title":null}},"y":{"field":"lo","type":"quantitative","scale":{"type":"log","domain":[0.1,10]},"axis":{"orient":"right","values":[0.2,0.3,0.4,0.5,0.6,0.7,0.8,0.9,2,3,4,5,6,7,8,9],"tickSize":3,"offset":-3,"labels":false,"domain":false,"title":null}}}},
  {"data":{"name":"pts"},"transform":[{"filter":"datum.e=='MARK II'"}],"mark":{"type":"tick","orient":"horizontal","color":"#5b5bff","size":4,"thickness":1},"encoding":{"x":{"field":"z","type":"quantitative","scale":{"type":"log","domain":[0.049,1]},"axis":null},"y":{"field":"hi","type":"quantitative","scale":{"type":"log","domain":[0.1,10]},"axis":null}}},
  {"data":{"name":"pts"},"transform":[{"filter":"datum.e=='MARK II'"}],"mark":{"type":"circle","fill":"#22c022","stroke":"#ff2a2a","strokeWidth":1.6,"size":28,"opacity":1},"encoding":{"x":{"field":"z","type":"quantitative","scale":{"type":"log","domain":[0.049,1]},"axis":null},"y":{"field":"v","type":"quantitative","scale":{"type":"log","domain":[0.1,10]},"axis":null}}},
  {"data":{"values":[{}]},"mark":{"type":"text","align":"left","baseline":"alphabetic","font":"Liberation Sans","fontWeight":"bold","fontSize":12,"color":"black"},"encoding":{"x":{"datum":0.0531,"type":"quantitative","scale":{"type":"log","domain":[0.049,1]},"axis":null},"y":{"datum":4.6,"type":"quantitative","scale":{"type":"log","domain":[0.1,10]},"axis":null},"text":{"value":"MARK II"}}}
 ]},
 {"width":186,"height":97,"resolve":{"axis":{"x":"independent","y":"independent"}},"layer":[
  {"data":{"name":"band"},"transform":[{"filter":"datum.e=='OPAL'"}],"mark":{"type":"area","fill":"#bff5bf","stroke":"#3ddc3d","strokeWidth":1},"encoding":{"x":{"field":"z","type":"quantitative","scale":{"type":"log","domain":[0.049,1]},"axis":{"orient":"bottom","values":[0.1,1],"tickSize":5,"offset":-5,"labels":true,"format":"~g","labelFlush":false,"labelPadding":4,"domain":false,"title":"z","titleFontSize":12,"titlePadding":7}},"y":{"field":"lo","type":"quantitative","scale":{"type":"log","domain":[0.1,10]},"axis":{"orient":"left","values":[0.1,1,10],"tickSize":5,"offset":-5,"labels":false,"domain":false,"title":null}},"y2":{"field":"hi"}}},
  {"data":{"name":"band"},"transform":[{"filter":"datum.e=='OPAL'"}],"mark":{"type":"line","stroke":"#2ecc2e","strokeWidth":1.5,"strokeDash":[3,4]},"encoding":{"x":{"field":"z","type":"quantitative","scale":{"type":"log","domain":[0.049,1]},"axis":{"orient":"top","values":[0.1,1],"tickSize":5,"offset":-5,"labels":false,"domain":false,"title":null}},"y":{"field":"mid","type":"quantitative","scale":{"type":"log","domain":[0.1,10]},"axis":{"orient":"right","values":[0.1,1,10],"tickSize":5,"offset":-5,"labels":false,"domain":false,"title":null}}}},
  {"data":{"name":"pts"},"transform":[{"filter":"datum.e=='OPAL'"}],"mark":{"type":"rule","stroke":"#5b5bff","strokeWidth":1},"encoding":{"x":{"field":"z","type":"quantitative","scale":{"type":"log","domain":[0.049,1]},"axis":{"orient":"bottom","values":[0.05,0.06,0.07,0.08,0.09,0.2,0.3,0.4,0.5,0.6,0.7,0.8,0.9],"tickSize":3,"offset":-3,"labels":false,"domain":false,"title":null}},"y":{"field":"lo","type":"quantitative","scale":{"type":"log","domain":[0.1,10]},"axis":{"orient":"left","values":[0.2,0.3,0.4,0.5,0.6,0.7,0.8,0.9,2,3,4,5,6,7,8,9],"tickSize":3,"offset":-3,"labels":false,"domain":false,"title":null}},"y2":{"field":"hi"}}},
  {"data":{"name":"pts"},"transform":[{"filter":"datum.e=='OPAL'"}],"mark":{"type":"tick","orient":"horizontal","color":"#5b5bff","size":4,"thickness":1},"encoding":{"x":{"field":"z","type":"quantitative","scale":{"type":"log","domain":[0.049,1]},"axis":{"orient":"top","values":[0.05,0.06,0.07,0.08,0.09,0.2,0.3,0.4,0.5,0.6,0.7,0.8,0.9],"tickSize":3,"offset":-3,"labels":false,"domain":false,"title":null}},"y":{"field":"lo","type":"quantitative","scale":{"type":"log","domain":[0.1,10]},"axis":{"orient":"right","values":[0.2,0.3,0.4,0.5,0.6,0.7,0.8,0.9,2,3,4,5,6,7,8,9],"tickSize":3,"offset":-3,"labels":false,"domain":false,"title":null}}}},
  {"data":{"name":"pts"},"transform":[{"filter":"datum.e=='OPAL'"}],"mark":{"type":"tick","orient":"horizontal","color":"#5b5bff","size":4,"thickness":1},"encoding":{"x":{"field":"z","type":"quantitative","scale":{"type":"log","domain":[0.049,1]},"axis":null},"y":{"field":"hi","type":"quantitative","scale":{"type":"log","domain":[0.1,10]},"axis":null}}},
  {"data":{"name":"pts"},"transform":[{"filter":"datum.e=='OPAL'"}],"mark":{"type":"circle","fill":"#22c022","stroke":"#ff2a2a","strokeWidth":1.6,"size":28,"opacity":1},"encoding":{"x":{"field":"z","type":"quantitative","scale":{"type":"log","domain":[0.049,1]},"axis":null},"y":{"field":"v","type":"quantitative","scale":{"type":"log","domain":[0.1,10]},"axis":null}}},
  {"data":{"values":[{}]},"mark":{"type":"text","align":"left","baseline":"alphabetic","font":"Liberation Sans","fontWeight":"bold","fontSize":12,"color":"black"},"encoding":{"x":{"datum":0.0531,"type":"quantitative","scale":{"type":"log","domain":[0.049,1]},"axis":null},"y":{"datum":4.6,"type":"quantitative","scale":{"type":"log","domain":[0.1,10]},"axis":null},"text":{"value":"OPAL"}}}
 ]},
 {"width":186,"height":97,"resolve":{"axis":{"x":"independent","y":"independent"}},"layer":[
  {"data":{"name":"band"},"transform":[{"filter":"datum.e=='TOPAZ'"}],"mark":{"type":"area","fill":"#bff5bf","stroke":"#3ddc3d","strokeWidth":1},"encoding":{"x":{"field":"z","type":"quantitative","scale":{"type":"log","domain":[0.049,1]},"axis":{"orient":"bottom","values":[0.1,1],"tickSize":5,"offset":-5,"labels":true,"format":"~g","labelFlush":false,"labelPadding":4,"domain":false,"title":"z","titleFontSize":12,"titlePadding":7}},"y":{"field":"lo","type":"quantitative","scale":{"type":"log","domain":[0.1,10]},"axis":{"orient":"left","values":[0.1,1,10],"tickSize":5,"offset":-5,"labels":false,"domain":false,"title":null}},"y2":{"field":"hi"}}},
  {"data":{"name":"band"},"transform":[{"filter":"datum.e=='TOPAZ'"}],"mark":{"type":"line","stroke":"#2ecc2e","strokeWidth":1.5,"strokeDash":[3,4]},"encoding":{"x":{"field":"z","type":"quantitative","scale":{"type":"log","domain":[0.049,1]},"axis":{"orient":"top","values":[0.1,1],"tickSize":5,"offset":-5,"labels":false,"domain":false,"title":null}},"y":{"field":"mid","type":"quantitative","scale":{"type":"log","domain":[0.1,10]},"axis":{"orient":"right","values":[0.1,1,10],"tickSize":5,"offset":-5,"labels":false,"domain":false,"title":null}}}},
  {"data":{"name":"pts"},"transform":[{"filter":"datum.e=='TOPAZ'"}],"mark":{"type":"rule","stroke":"#5b5bff","strokeWidth":1},"encoding":{"x":{"field":"z","type":"quantitative","scale":{"type":"log","domain":[0.049,1]},"axis":{"orient":"bottom","values":[0.05,0.06,0.07,0.08,0.09,0.2,0.3,0.4,0.5,0.6,0.7,0.8,0.9],"tickSize":3,"offset":-3,"labels":false,"domain":false,"title":null}},"y":{"field":"lo","type":"quantitative","scale":{"type":"log","domain":[0.1,10]},"axis":{"orient":"left","values":[0.2,0.3,0.4,0.5,0.6,0.7,0.8,0.9,2,3,4,5,6,7,8,9],"tickSize":3,"offset":-3,"labels":false,"domain":false,"title":null}},"y2":{"field":"hi"}}},
  {"data":{"name":"pts"},"transform":[{"filter":"datum.e=='TOPAZ'"}],"mark":{"type":"tick","orient":"horizontal","color":"#5b5bff","size":4,"thickness":1},"encoding":{"x":{"field":"z","type":"quantitative","scale":{"type":"log","domain":[0.049,1]},"axis":{"orient":"top","values":[0.05,0.06,0.07,0.08,0.09,0.2,0.3,0.4,0.5,0.6,0.7,0.8,0.9],"tickSize":3,"offset":-3,"labels":false,"domain":false,"title":null}},"y":{"field":"lo","type":"quantitative","scale":{"type":"log","domain":[0.1,10]},"axis":{"orient":"right","values":[0.2,0.3,0.4,0.5,0.6,0.7,0.8,0.9,2,3,4,5,6,7,8,9],"tickSize":3,"offset":-3,"labels":false,"domain":false,"title":null}}}},
  {"data":{"name":"pts"},"transform":[{"filter":"datum.e=='TOPAZ'"}],"mark":{"type":"tick","orient":"horizontal","color":"#5b5bff","size":4,"thickness":1},"encoding":{"x":{"field":"z","type":"quantitative","scale":{"type":"log","domain":[0.049,1]},"axis":null},"y":{"field":"hi","type":"quantitative","scale":{"type":"log","domain":[0.1,10]},"axis":null}}},
  {"data":{"name":"pts"},"transform":[{"filter":"datum.e=='TOPAZ'"}],"mark":{"type":"circle","fill":"#22c022","stroke":"#ff2a2a","strokeWidth":1.6,"size":28,"opacity":1},"encoding":{"x":{"field":"z","type":"quantitative","scale":{"type":"log","domain":[0.049,1]},"axis":null},"y":{"field":"v","type":"quantitative","scale":{"type":"log","domain":[0.1,10]},"axis":null}}},
  {"data":{"values":[{}]},"mark":{"type":"text","align":"left","baseline":"alphabetic","font":"Liberation Sans","fontWeight":"bold","fontSize":12,"color":"black"},"encoding":{"x":{"datum":0.0531,"type":"quantitative","scale":{"type":"log","domain":[0.049,1]},"axis":null},"y":{"datum":4.6,"type":"quantitative","scale":{"type":"log","domain":[0.1,10]},"axis":null},"text":{"value":"TOPAZ"}}}
 ]},
 {"width":186,"height":97,"resolve":{"axis":{"x":"independent","y":"independent"}},"layer":[
  {"data":{"name":"band"},"transform":[{"filter":"datum.e=='TPC'"}],"mark":{"type":"area","fill":"#bff5bf","stroke":"#3ddc3d","strokeWidth":1},"encoding":{"x":{"field":"z","type":"quantitative","scale":{"type":"log","domain":[0.049,1]},"axis":{"orient":"bottom","values":[0.1,1],"tickSize":5,"offset":-5,"labels":true,"format":"~g","labelFlush":false,"labelPadding":4,"domain":false,"title":"z","titleFontSize":12,"titlePadding":7}},"y":{"field":"lo","type":"quantitative","scale":{"type":"log","domain":[0.1,10]},"axis":{"orient":"left","values":[0.1,1,10],"tickSize":5,"offset":-5,"labels":true,"format":"~g","labelFlush":false,"labelPadding":4,"domain":false,"title":"Data/Theoy","titlePadding":4}},"y2":{"field":"hi"}}},
  {"data":{"name":"band"},"transform":[{"filter":"datum.e=='TPC'"}],"mark":{"type":"line","stroke":"#2ecc2e","strokeWidth":1.5,"strokeDash":[3,4]},"encoding":{"x":{"field":"z","type":"quantitative","scale":{"type":"log","domain":[0.049,1]},"axis":{"orient":"top","values":[0.1,1],"tickSize":5,"offset":-5,"labels":false,"domain":false,"title":null}},"y":{"field":"mid","type":"quantitative","scale":{"type":"log","domain":[0.1,10]},"axis":{"orient":"right","values":[0.1,1,10],"tickSize":5,"offset":-5,"labels":false,"domain":false,"title":null}}}},
  {"data":{"name":"pts"},"transform":[{"filter":"datum.e=='TPC'"}],"mark":{"type":"rule","stroke":"#5b5bff","strokeWidth":1},"encoding":{"x":{"field":"z","type":"quantitative","scale":{"type":"log","domain":[0.049,1]},"axis":{"orient":"bottom","values":[0.05,0.06,0.07,0.08,0.09,0.2,0.3,0.4,0.5,0.6,0.7,0.8,0.9],"tickSize":3,"offset":-3,"labels":false,"domain":false,"title":null}},"y":{"field":"lo","type":"quantitative","scale":{"type":"log","domain":[0.1,10]},"axis":{"orient":"left","values":[0.2,0.3,0.4,0.5,0.6,0.7,0.8,0.9,2,3,4,5,6,7,8,9],"tickSize":3,"offset":-3,"labels":false,"domain":false,"title":null}},"y2":{"field":"hi"}}},
  {"data":{"name":"pts"},"transform":[{"filter":"datum.e=='TPC'"}],"mark":{"type":"tick","orient":"horizontal","color":"#5b5bff","size":4,"thickness":1},"encoding":{"x":{"field":"z","type":"quantitative","scale":{"type":"log","domain":[0.049,1]},"axis":{"orient":"top","values":[0.05,0.06,0.07,0.08,0.09,0.2,0.3,0.4,0.5,0.6,0.7,0.8,0.9],"tickSize":3,"offset":-3,"labels":false,"domain":false,"title":null}},"y":{"field":"lo","type":"quantitative","scale":{"type":"log","domain":[0.1,10]},"axis":{"orient":"right","values":[0.2,0.3,0.4,0.5,0.6,0.7,0.8,0.9,2,3,4,5,6,7,8,9],"tickSize":3,"offset":-3,"labels":false,"domain":false,"title":null}}}},
  {"data":{"name":"pts"},"transform":[{"filter":"datum.e=='TPC'"}],"mark":{"type":"tick","orient":"horizontal","color":"#5b5bff","size":4,"thickness":1},"encoding":{"x":{"field":"z","type":"quantitative","scale":{"type":"log","domain":[0.049,1]},"axis":null},"y":{"field":"hi","type":"quantitative","scale":{"type":"log","domain":[0.1,10]},"axis":null}}},
  {"data":{"name":"pts"},"transform":[{"filter":"datum.e=='TPC'"}],"mark":{"type":"circle","fill":"#22c022","stroke":"#ff2a2a","strokeWidth":1.6,"size":28,"opacity":1},"encoding":{"x":{"field":"z","type":"quantitative","scale":{"type":"log","domain":[0.049,1]},"axis":null},"y":{"field":"v","type":"quantitative","scale":{"type":"log","domain":[0.1,10]},"axis":null}}},
  {"data":{"values":[{}]},"mark":{"type":"text","align":"left","baseline":"alphabetic","font":"Liberation Sans","fontWeight":"bold","fontSize":12,"color":"black"},"encoding":{"x":{"datum":0.0531,"type":"quantitative","scale":{"type":"log","domain":[0.049,1]},"axis":null},"y":{"datum":4.6,"type":"quantitative","scale":{"type":"log","domain":[0.1,10]},"axis":null},"text":{"value":"TPC"}}}
 ]},
 {"width":186,"height":97,"view":{"stroke":null},"data":{"values":[{}]},"layer":[
  {"mark":{"type":"text","font":"Liberation Sans","fontWeight":"bold","fontSize":17,"align":"center","baseline":"middle","color":"black"},"encoding":{"x":{"datum":0.387,"type":"quantitative","scale":{"domain":[0,1]},"axis":null},"y":{"datum":0.485,"type":"quantitative","scale":{"domain":[0,1]},"axis":null},"text":{"value":"Model (NNLO)"}}},
  {"mark":{"type":"text","font":"Liberation Sans","fontWeight":"bold","fontSize":17,"align":"center","baseline":"middle","color":"black"},"encoding":{"x":{"datum":0.32,"type":"quantitative","scale":{"domain":[0,1]},"axis":null},"y":{"datum":0.242,"type":"quantitative","scale":{"domain":[0,1]},"axis":null},"text":{"value":"K"}}},
  {"mark":{"type":"text","font":"Liberation Sans","fontWeight":"bold","fontSize":10,"align":"center","baseline":"middle","color":"black"},"encoding":{"x":{"datum":0.368,"type":"quantitative","scale":{"domain":[0,1]},"axis":null},"y":{"datum":0.309,"type":"quantitative","scale":{"domain":[0,1]},"axis":null},"text":{"value":"0"}}},
  {"mark":{"type":"text","font":"Liberation Sans","fontWeight":"bold","fontSize":13,"align":"center","baseline":"middle","color":"black"},"encoding":{"x":{"datum":0.406,"type":"quantitative","scale":{"domain":[0,1]},"axis":null},"y":{"datum":0.186,"type":"quantitative","scale":{"domain":[0,1]},"axis":null},"text":{"value":"S"}}}
 ]}
]
}
